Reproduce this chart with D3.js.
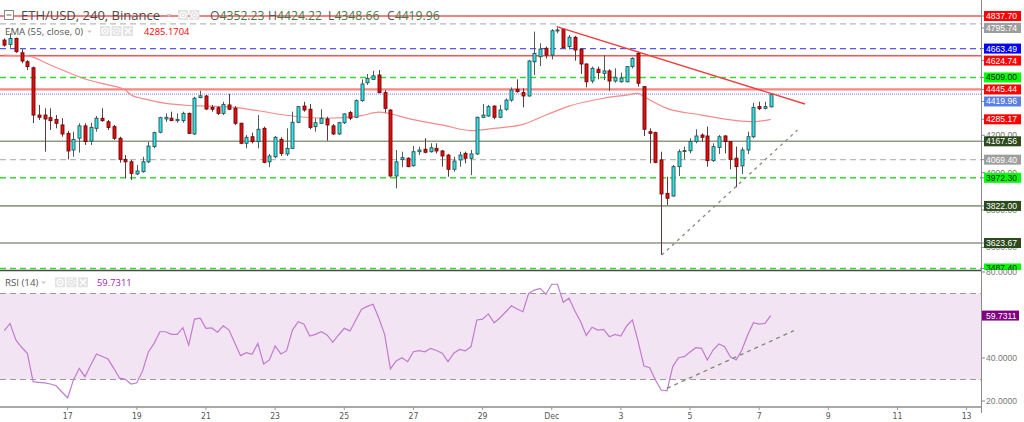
<!DOCTYPE html>
<html><head><meta charset="utf-8">
<script src="https://cdn.jsdelivr.net/npm/d3@7"></script>
<style>body{margin:0;background:#fff;overflow:hidden}svg{display:block}</style>
</head><body><svg id="c" width="1024" height="422"></svg>
<script>
// ---------------- DATA ----------------
const opens  = [4709,4686,4718,4641,4593,4561,4308,4308,4294,4285,4255,4210,4121,4184,4250,4169,4237,4291,4272,4246,
4184,4071,4058,3993,4005,4058,4139,4216,4287,4291,4278,4278,4317,4207,4401,4410,4349,4347,4317,4362,
4344,4264,4157,4192,4166,4237,4058,4085,4178,4100,4130,4269,4356,4339,4246,4264,4287,4250,4207,4267,
4321,4296,4385,4481,4499,4522,4428,4335,3982,4071,4077,4037,4112,4125,4112,4130,4116,4094,4018,4068,
4103,4077,4100,4296,4303,4356,4296,4339,4388,4446,4428,4410,4593,4620,4665,4629,4758,4767,4674,4724,
4660,4581,4490,4553,4531,4544,4490,4486,4486,4567,4638,4460,4219,4214,4068,3889,3875,4032,4116,4117,
4166,4201,4196,4064,4135,4196,4166,4077,4036,4121,4192,4353,4344,4352.23];
const highs  = [4718,4745,4722,4660,4602,4567,4362,4344,4344,4308,4291,4224,4219,4264,4264,4267,4303,4344,4282,4255,
4192,4094,4068,4041,4085,4165,4219,4299,4317,4326,4317,4326,4321,4406,4438,4415,4362,4356,4379,4421,
4356,4267,4201,4214,4308,4246,4100,4196,4189,4237,4326,4356,4379,4367,4291,4339,4299,4260,4272,4317,
4330,4392,4499,4528,4545,4549,4442,4339,4121,4112,4082,4142,4139,4184,4157,4157,4121,4100,4085,4112,
4112,4121,4299,4367,4362,4360,4362,4397,4456,4499,4451,4602,4754,4692,4674,4767,4777,4772,4736,4731,
4665,4585,4567,4567,4629,4553,4558,4535,4570,4617,4647,4463,4237,4219,4112,3978,4041,4125,4139,4184,
4232,4210,4246,4157,4201,4201,4166,4139,4135,4219,4374,4379,4379,4424.22];
const lows   = [4674,4668,4641,4585,4549,4265,4282,4112,4228,4237,4192,4071,4085,4107,4148,4148,4219,4272,4228,4175,
4053,3970,3961,3987,4000,4050,4130,4210,4272,4276,4267,4267,4207,4201,4398,4335,4326,4308,4308,4335,
4255,4153,4130,4157,4130,4050,4029,4077,4089,4089,4126,4264,4326,4232,4219,4260,4171,4201,4201,4260,
4281,4291,4379,4469,4495,4424,4321,3978,3916,4029,4029,4032,4094,4103,4107,4103,4032,3978,4005,4032,
4050,3987,4094,4291,4299,4285,4291,4331,4379,4428,4349,4406,4522,4570,4611,4606,4745,4665,4660,4599,
4528,4456,4478,4499,4495,4438,4481,4481,4483,4558,4460,4196,4050,4050,3560,3827,3871,3982,4071,4103,
4157,4166,4032,4058,4100,4103,4018,3922,3993,4100,4184,4335,4338,4348.66];
const closes = [4682,4718,4647,4597,4567,4308,4296,4287,4278,4264,4207,4116,4178,4250,4166,4242,4291,4278,4242,4184,
4071,4058,3996,4009,4058,4142,4214,4294,4296,4278,4285,4317,4210,4398,4411,4340,4339,4317,4365,4339,
4264,4157,4189,4166,4232,4055,4089,4189,4103,4130,4269,4353,4335,4242,4267,4291,4255,4207,4267,4314,
4291,4385,4474,4504,4518,4428,4344,3982,4058,4080,4032,4112,4121,4109,4133,4116,4089,4018,4062,4094,
4077,4100,4296,4308,4353,4296,4335,4388,4442,4433,4410,4597,4638,4661,4629,4759,4763,4668,4724,4656,
4581,4486,4558,4535,4544,4490,4510,4506,4567,4611,4478,4232,4210,4055,3886,3863,4032,4112,4118,4166,
4196,4189,4064,4139,4192,4166,4071,4032,4121,4192,4349,4342,4353,4419.96];

const emaIdx  = [0,4,8,14,18,21,22,25,28,32,35,40,44,50,56,62,65,67,70,76,81,85,90,94,98,104,108,110,111,115,121,127,130,133];
const emaVals = [4629,4624,4576,4501,4469,4442,4415,4389,4370,4359,4356,4349,4331,4303,4291,4305,4324,4315,4290,4255,4225,4237,4258,4308,4356,4398,4415,4424,4406,4344,4308,4278,4272,4285.17];

const rsiVals = [52.7,56.1,48.4,45.0,42.2,29.0,28.7,28.4,27.9,27.1,24.2,21.5,29.8,35.2,31.3,36.7,41.9,40.7,39.5,35.2,
30.6,30.1,27.9,28.5,34.0,42.8,46.8,52.2,52.2,51.0,51.0,54.1,46.0,58.1,58.5,53.8,54.0,52.0,55.0,53.0,
47.0,41.1,42.5,41.7,46.8,37.2,39.1,45.6,41.9,43.4,53.0,56.9,55.7,50.2,51.0,52.2,50.7,47.3,50.7,53.8,
52.6,57.7,62.7,64.0,65.0,58.5,51.0,34.9,38.6,40.1,38.3,42.9,43.4,42.9,44.5,43.5,42.2,38.3,42.2,44.0,
43.3,45.3,57.7,58.1,60.5,56.4,58.6,61.4,64.3,62.8,61.5,70.1,71.6,72.4,69.6,74.3,74.3,65.9,67.8,62.0,
57.0,50.5,54.3,53.0,53.3,49.9,51.0,50.2,54.9,57.7,47.6,36.3,35.5,29.8,25.1,24.7,36.0,40.1,40.6,42.8,
44.8,44.5,39.1,43.7,46.5,45.3,40.6,39.1,43.7,50.7,56.4,55.8,56.1,59.7311];

// horizontal levels (price, kind)
const levelPrices = [4837.70,4795.74,4663.49,4624.74,4509.00,4445.44,4419.96,4167.56,4069.40,3972.30,3822.00,3623.67,3487.40];
const levelKinds  = ["red","gray","blue","red","green","redThick","last","olive","gray","green","olive","olive","green"];
// axis badge values (price, kind)
const badgePrices = [4837.70,4795.74,4663.49,4624.74,4509.00,4445.44,4419.96,4285.17,4167.56,4069.40,3972.30,3822.00,3623.67,3487.40];
const badgeKinds  = ["red","gray","blue","red","green","red","last","red","olive","gray","green","olive","olive","green"];

// scale ticks whose labels peek out from behind the badges
const priceTicks = [3600,3800,4000,4200];
const rsiTicks = [20,40,80];
const rsiBand = [30,70];

// trend lines: candle index and price / rsi
const resIdx = [95.86,138.95], resPrice = [4780.5,4367];
const supIdx = [114.1,137.65], supPrice = [3560,4228];
const rsiSupIdx = [115.0,137.0], rsiSupVal = [25.9,52.7];

const dayTicks = [[2021,10,17],[2021,10,19],[2021,10,21],[2021,10,23],[2021,10,25],[2021,10,27],[2021,10,29],
                  [2021,11,1],[2021,11,3],[2021,11,5],[2021,11,7],[2021,11,9],[2021,11,11],[2021,11,13]];
const dayLabels = ["17","19","21","23","25","27","29","Dec","3","5","7","9","11","13"];

const header = {sym:"ETH/USD, 240, Binance", o:"4352.23", h:"4424.22", l:"4348.66", c:"4419.96"};
const emaTitle = "EMA (55, close, 0)", emaValText = "4285.1704";
const rsiTitle = "RSI (14)", rsiValText = "59.7311";

// ---------------- STYLES ----------------
const lineStyle = {
  red:{stroke:"#f25555",w:1.5,dash:null},
  redThick:{stroke:"#f78686",w:2.4,dash:null},
  gray:{stroke:"#b9b9b9",w:1.4,dash:"6,4"},
  blue:{stroke:"#5656ee",w:1.4,dash:"6,4"},
  green:{stroke:"#33dd33",w:1.4,dash:"6,4"},
  last:{stroke:"#6b7cf2",w:1,dash:"1,1"},
  olive:{stroke:"#8d9c82",w:1.6,dash:null}
};
const badgeStyle = {
  red:{bg:"#ff0000",fg:"#fff"}, gray:{bg:"#9e9e9e",fg:"#fff"}, blue:{bg:"#0000ff",fg:"#fff"},
  green:{bg:"#00ff00",fg:"#111"}, last:{bg:"#5b80e3",fg:"#fff"}, olive:{bg:"#2d4a1c",fg:"#fff"}
};

// ---------------- SETUP ----------------
const svg = d3.select("#c");
const AX = 981, PRICE_BOTTOM = 270, RSI_TOP = 271, RSI_BOTTOM = 407;
const t0 = new Date(2021,10,15,4,0,0);
const STEP = 4*3600e3;
const dateAt = i => new Date(t0.getTime() + i*STEP);
const dates = opens.map((d,i)=>dateAt(i));

const x = d3.scaleTime().domain([dates[0], dates[dates.length-1]]).range([4.3, 770.7]);
const y = d3.scaleLinear().domain([3490, 4923.3]).range([268, 0]);
const yR = d3.scaleLinear().domain([20, 80]).range([401, 272]);

const defs = svg.append("defs");
defs.append("clipPath").attr("id","cp").append("rect").attr("x",0).attr("y",0).attr("width",AX).attr("height",PRICE_BOTTOM);
defs.append("clipPath").attr("id","cr").append("rect").attr("x",0).attr("y",RSI_TOP).attr("width",AX).attr("height",RSI_BOTTOM-RSI_TOP);
defs.append("clipPath").attr("id","cpl").append("rect").attr("x",AX).attr("y",0).attr("width",1024-AX).attr("height",PRICE_BOTTOM);

const FONT = "'Open Sans', 'Liberation Sans', Arial, sans-serif";
const AFONT = "'Liberation Sans', Arial, sans-serif";

// ---------------- PRICE PANE ----------------
const gp = svg.append("g").attr("clip-path","url(#cp)");

levelPrices.forEach((p,k)=>{
  const s = lineStyle[levelKinds[k]];
  gp.append("line").attr("x1",0).attr("x2",AX).attr("y1",y(p)).attr("y2",y(p))
    .attr("stroke",s.stroke).attr("stroke-width",s.w).attr("stroke-dasharray",s.dash);
});

gp.append("path").datum(emaIdx.map((i,k)=>[dateAt(i), emaVals[k]]))
  .attr("fill","none").attr("stroke","#f68a8a").attr("stroke-width",1.2)
  .attr("d", d3.line().x(d=>x(d[0])).y(d=>y(d[1])).curve(d3.curveMonotoneX));

const cg = gp.append("g");
dates.forEach((d,i)=>{
  const cx = Math.round(x(d));
  const up = closes[i] >= opens[i];
  cg.append("line").attr("x1",cx+0.5).attr("x2",cx+0.5).attr("y1",y(highs[i])).attr("y2",y(lows[i]))
    .attr("stroke", up ? "#4d5e55" : "#5a3c3c").attr("stroke-width",1);
  const top = y(Math.max(opens[i],closes[i])), bot = y(Math.min(opens[i],closes[i]));
  cg.append("rect").attr("x",cx-1).attr("y",top).attr("width",3).attr("height",Math.max(1,bot-top))
    .attr("fill", up ? "#2ee6ea" : "#e80c0c")
    .attr("stroke", up ? "#2a5052" : "#6a0a0a").attr("stroke-width",0.9);
});

gp.append("line").attr("x1",x(dateAt(resIdx[0]))).attr("y1",y(resPrice[0]))
  .attr("x2",x(dateAt(resIdx[1]))).attr("y2",y(resPrice[1]))
  .attr("stroke","#f03c3c").attr("stroke-width",1.4);
gp.append("line").attr("x1",x(dateAt(supIdx[0]))).attr("y1",y(supPrice[0]))
  .attr("x2",x(dateAt(supIdx[1]))).attr("y2",y(supPrice[1]))
  .attr("stroke","#7e8c74").attr("stroke-width",1.3).attr("stroke-dasharray","3,4");

svg.append("line").attr("x1",0).attr("x2",AX).attr("y1",PRICE_BOTTOM+0.5).attr("y2",PRICE_BOTTOM+0.5)
  .attr("stroke","#4a4a4a").attr("stroke-width",1.6);

// ---------------- RSI PANE ----------------
const gr = svg.append("g").attr("clip-path","url(#cr)");
gr.append("rect").attr("x",0).attr("width",AX).attr("y",yR(rsiBand[1])).attr("height",yR(rsiBand[0])-yR(rsiBand[1]))
  .attr("fill","#f2e4f2");
rsiBand.forEach(v=>{
  gr.append("line").attr("x1",0).attr("x2",AX).attr("y1",yR(v)).attr("y2",yR(v))
    .attr("stroke","#9a9a9a").attr("stroke-width",1).attr("stroke-dasharray","6,4");
});
gr.append("path").datum(rsiVals.map((v,i)=>[dates[i],v]))
  .attr("fill","none").attr("stroke","#c27bd0").attr("stroke-width",1.2)
  .attr("d", d3.line().x(d=>x(d[0])).y(d=>yR(d[1])));
gr.append("line").attr("x1",x(dateAt(rsiSupIdx[0]))).attr("y1",yR(rsiSupVal[0]))
  .attr("x2",x(dateAt(rsiSupIdx[1]))).attr("y2",yR(rsiSupVal[1]))
  .attr("stroke","#7a8a72").attr("stroke-width",1.3).attr("stroke-dasharray","4,4");

svg.append("line").attr("x1",0).attr("x2",AX).attr("y1",RSI_BOTTOM).attr("y2",RSI_BOTTOM)
  .attr("stroke","#555").attr("stroke-width",1.2);

// ---------------- AXES ----------------
svg.append("line").attr("x1",AX+0.5).attr("x2",AX+0.5).attr("y1",0).attr("y2",RSI_BOTTOM+6)
  .attr("stroke","#8a8a8a").attr("stroke-width",1);

const pa = svg.append("g").attr("clip-path","url(#cpl)");
priceTicks.forEach(p=>{
  pa.append("line").attr("x1",AX).attr("x2",AX+4).attr("y1",y(p)).attr("y2",y(p)).attr("stroke","#888");
  pa.append("text").attr("x",AX+5).attr("y",y(p)).attr("dy","0.35em").attr("font-family",AFONT)
    .attr("font-size",8.6).attr("fill","#777").text(p.toFixed(2));
});
const badges = badgePrices.map((p,k)=>({p,k,yy:y(p)})).sort((a,b)=>a.yy-b.yy);
let prevBottom = -100;
const BH = 10, GAP = 2;
badges.forEach(b=>{
  const c = Math.max(b.yy, prevBottom + GAP + BH/2);
  b.cy = c; prevBottom = c + BH/2;
});
badges.forEach(b=>{
  const s = badgeStyle[badgeKinds[b.k]];
  pa.append("line").attr("x1",AX).attr("x2",AX+4).attr("y1",b.cy).attr("y2",b.cy).attr("stroke","#888");
  pa.append("rect").attr("x",AX+3).attr("y",b.cy-BH/2).attr("width",37).attr("height",BH).attr("fill",s.bg);
  pa.append("text").attr("x",AX+5).attr("y",b.cy).attr("dy","0.35em").attr("font-family",AFONT)
    .attr("font-size",8.6).attr("fill",s.fg).text(b.p.toFixed(2));
});

rsiTicks.forEach(v=>{
  svg.append("line").attr("x1",AX).attr("x2",AX+4).attr("y1",yR(v)).attr("y2",yR(v)).attr("stroke","#888");
  svg.append("text").attr("x",AX+5).attr("y",yR(v)).attr("dy","0.35em").attr("font-family",AFONT)
    .attr("font-size",8.6).attr("fill","#777").text(v.toFixed(4));
});
{
  const v = rsiVals[rsiVals.length-1];
  svg.append("line").attr("x1",AX).attr("x2",AX+4).attr("y1",yR(v)).attr("y2",yR(v)).attr("stroke","#888");
  svg.append("rect").attr("x",AX+1).attr("y",yR(v)-5).attr("width",37).attr("height",10).attr("fill","#800080");
  svg.append("text").attr("x",AX+5).attr("y",yR(v)).attr("dy","0.35em").attr("font-family",AFONT)
    .attr("font-size",8.6).attr("fill","#fff").text(v.toFixed(4));
}

dayTicks.forEach((d,k)=>{
  const xx = x(new Date(d[0],d[1],d[2]));
  svg.append("line").attr("x1",xx).attr("x2",xx).attr("y1",RSI_BOTTOM).attr("y2",RSI_BOTTOM+3).attr("stroke","#999");
  svg.append("text").attr("x",xx).attr("y",416).attr("dy","0.35em").attr("text-anchor","middle")
    .attr("font-family","'Liberation Sans Narrow','DejaVu Sans Condensed','Liberation Sans',sans-serif")
    .attr("font-stretch","condensed").attr("font-size",8.6).attr("fill","#555").text(dayLabels[k]);
});

// ---------------- LEGENDS ----------------
function icons(g, x0, yc, n){
  for(let k=0;k<n;k++){
    const xx = x0 + k*11.5;
    g.append("rect").attr("x",xx).attr("y",yc-5).attr("width",10).attr("height",10).attr("fill","#e3e3e3");
    if(k===0){
      g.append("circle").attr("cx",xx+5).attr("cy",yc).attr("r",3).attr("fill","none").attr("stroke","#fff").attr("stroke-width",1.2);
      g.append("circle").attr("cx",xx+5).attr("cy",yc).attr("r",1).attr("fill","#fff");
    } else if(k===1){
      g.append("circle").attr("cx",xx+5).attr("cy",yc).attr("r",3.2).attr("fill","none").attr("stroke","#fff").attr("stroke-width",1.6).attr("stroke-dasharray","1.4,1");
      g.append("circle").attr("cx",xx+5).attr("cy",yc).attr("r",1).attr("fill","#fff");
    } else {
      g.append("path").attr("d",`M${xx+2},${yc-3}L${xx+8},${yc+3}M${xx+8},${yc-3}L${xx+2},${yc+3}`).attr("stroke","#fff").attr("stroke-width",1.4);
    }
  }
}
const lg = svg.append("g");
lg.append("rect").attr("x",4.5).attr("y",10.5).attr("width",9).attr("height",9).attr("fill","#fff").attr("stroke","#888");
lg.append("line").attr("x1",6.5).attr("x2",11.5).attr("y1",15).attr("y2",15).attr("stroke","#666");
lg.append("text").attr("x",21).attr("y",19.5).attr("font-family",FONT).attr("font-size",13).attr("fill","#4a4a4a").text(header.sym);
lg.append("path").attr("d","M166,14l3,3l3,-3z").attr("fill","#c8c8c8");
icons(lg, 178, 15, 2);
[["O",header.o,210],["H",header.h,268],["L",header.l,328],["C",header.c,387]].forEach(([k,v,xx])=>{
  const t = lg.append("text").attr("x",xx).attr("y",19.5).attr("font-family",FONT).attr("font-size",12.2);
  t.append("tspan").attr("fill","#555").text(k);
  t.append("tspan").attr("fill","#3f7a4a").text(v);
});
lg.append("text").attr("x",5).attr("y",34.5).attr("font-family",FONT).attr("font-size",9.7).attr("fill","#555").text(emaTitle);
lg.append("path").attr("d","M87,30.5l2.5,2.5l2.5,-2.5z").attr("fill","#c8c8c8");
icons(lg, 100, 31, 3);
lg.append("text").attr("x",144).attr("y",34.5).attr("font-family",FONT).attr("font-size",9.4).attr("fill","#ff0000").text(emaValText);
lg.append("text").attr("x",5).attr("y",285.8).attr("font-family",FONT).attr("font-size",9.7).attr("fill","#555").text(rsiTitle);
lg.append("path").attr("d","M41,281.5l2.5,2.5l2.5,-2.5z").attr("fill","#c8c8c8");
icons(lg, 55, 282.3, 3);
lg.append("text").attr("x",97).attr("y",285.8).attr("font-family",FONT).attr("font-size",9.4).attr("fill","#9c27b0").text(rsiValText);
</script>
</body></html>
